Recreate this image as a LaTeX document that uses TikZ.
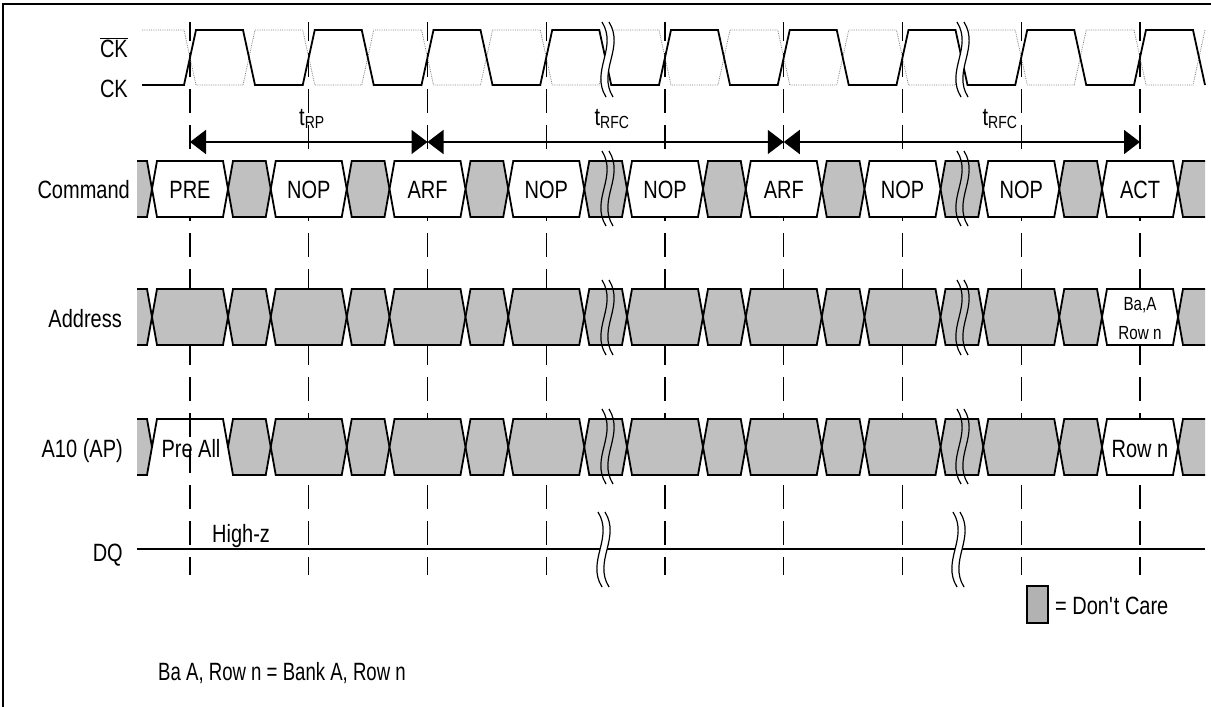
\documentclass[tikz,border=0pt]{standalone}
\usepackage{fontspec}
\usepackage{graphicx}
\setmainfont{Liberation Sans}[FakeStretch=0.8]
\usetikzlibrary{arrows.meta}
\definecolor{dcgray}{RGB}{192,192,192}
\definecolor{keygray}{RGB}{178,178,178}

% hexagon bus cell from #1 to #2 on the row centred at #3
\newcommand{\buscell}[4]{%
  \filldraw[bus,fill=#4] (#1,#3) -- (#1+5,#3-28) -- (#2-5,#3-28) -- (#2,#3)
    -- (#2-5,#3+28) -- (#1+5,#3+28) -- cycle;}
% open don't-care pieces at both ends of a row
\newcommand{\busends}[1]{%
  \fill[dcgray] (137,#1-28) -- (147,#1-28) -- (152,#1) -- (147,#1+28) -- (137,#1+28) -- cycle;
  \draw[bus] (137,#1-28) -- (147,#1-28) -- (152,#1) -- (147,#1+28) -- (137,#1+28);
  \fill[dcgray] (1205,#1-28) -- (1183,#1-28) -- (1178,#1) -- (1183,#1+28) -- (1205,#1+28) -- cycle;
  \draw[bus] (1205,#1-28) -- (1183,#1-28) -- (1178,#1) -- (1183,#1+28) -- (1205,#1+28);}
% time break: two wavy lines
\newcommand{\brk}[4][none]{%
  \path[fill=#1] (#2-2,#3) .. controls +(16,26) and +(-16,-26) .. (#2+2,#4)
    -- (#2+9,#4) .. controls +(-16,-26) and +(16,26) .. (#2+5,#3) -- cycle;
  \draw[brkline] (#2-2,#3) .. controls +(16,26) and +(-16,-26) .. (#2+2,#4);
  \draw[brkline] (#2+5,#3) .. controls +(16,26) and +(-16,-26) .. (#2+9,#4);}

\begin{document}
\begin{tikzpicture}[x=1pt,y=-1pt,
  every node/.style={font=\fontsize{25}{28}\selectfont,inner sep=0pt},
  sig/.style={anchor=base east},
  cmd/.style={anchor=base},
  small/.style={cmd,font=\fontsize{19}{22}\selectfont},
  bus/.style={line width=1.8pt},
  clk/.style={line width=1.8pt},
  clkn/.style={line width=0.8pt,densely dotted,gray},
  guide/.style={line width=1.4pt,dash pattern=on 24pt off 12pt,dash phase=5pt},
  span/.style={line width=1.8pt,<->,>={Triangle[length=16pt,width=24pt]}},
  brkline/.style={line width=1.2pt}]
\useasboundingbox (0,0) rectangle (1211,707);
\draw[line width=2pt] (3,707) -- (3,4) -- (1211,4);

% clock edges and guide lines
\foreach \i [evaluate=\i as \e using {190+118.75*\i}] in {0,...,8}{
  \coordinate (e\i) at (\e,142);
  \draw[guide] (\e,22) -- (\e,575);}

% CK and CK#
\draw[clkn] (142,30) \foreach \i [evaluate=\i as \e using {190+118.75*\i}] in {0,...,8}{
  -- (\e-6,30) -- (\e+6,85) -- (\e+53,85) -- (\e+65,30)};
\draw[clk] (142,85) \foreach \i [evaluate=\i as \e using {190+118.75*\i}] in {0,...,8}{
  -- (\e-6,85) -- (\e+6,30) -- (\e+53,30) -- (\e+65,85)};
\brk[white]{604}{22}{97}
\brk[white]{959}{22}{97}

% timing spans
\draw[span] (e0) -- (e2);
\draw[span] (e2) -- (e5);
\draw[span] (e5) -- (e8);
\node[cmd] (trp) at (312,125) {t\textsubscript{RP}};
\node[cmd] (trfc1) at (612,125) {t\textsubscript{RFC}};
\node[cmd] (trfc2) at (1000,125) {t\textsubscript{RFC}};

% Command
\busends{189}
\foreach \i [evaluate=\i as \e using {190+118.75*\i}] in {0,...,7}
  \buscell{\e+38}{\e+80.75}{189}{dcgray};
\foreach \i/\c [evaluate=\i as \e using {190+118.75*\i}] in
  {0/PRE,1/NOP,2/ARF,3/NOP,4/NOP,5/ARF,6/NOP,7/NOP,8/ACT}{
  \buscell{\e-38}{\e+38}{189}{white}
  \node[cmd] (cmd\i) at (\e,198) {\c};}

% Address
\busends{317}
\foreach \i [evaluate=\i as \e using {190+118.75*\i}] in {0,...,7}{
  \buscell{\e-38}{\e+38}{317}{dcgray}
  \buscell{\e+38}{\e+80.75}{317}{dcgray}}
\buscell{1102}{1178}{317}{white}
\node[small] (bank) at (1140,310) {Ba,A};
\node[small] (row) at (1140,339) {Row n};

% A10
\busends{447}
\draw[bus] (152,447) -- (157,419) -- (223,419) -- (228,447);
\node[cmd] (preall) at (191,457) {Pre All};
\foreach \i [evaluate=\i as \e using {190+118.75*\i}] in {0,...,7}
  \buscell{\e+38}{\e+80.75}{447}{dcgray};
\foreach \i [evaluate=\i as \e using {190+118.75*\i}] in {1,...,7}
  \buscell{\e-38}{\e+38}{447}{dcgray};
\buscell{1102}{1178}{447}{white}
\node[cmd] (rown) at (1140,457) {Row n};

\foreach \y in {151,280,409}{
  \brk{604}{\y}{\y+75}
  \brk{959}{\y}{\y+75}}

% DQ
\draw[line width=2pt] (137,549) coordinate (dq0) -- (1205,549) coordinate (dq1);
\brk[white]{600}{512}{587}
\brk[white]{955}{512}{587}

% signal names
\node[sig] (ckn) at (128,57) {$\overline{\hbox{CK}}$};
\node[sig] (ck) at (128,97) {CK};
\node[sig] (cmdl) at (130,198) {Command};
\node[sig] (addr) at (122,327) {Address};
\node[sig] (a10) at (123,457) {A10 (AP)};
\node[sig] (dq) at (123,561) {DQ};
\node[anchor=base west] (hiz) at (212,542) {High-z};
\node[anchor=base west] (note) at (158,680) {\scalebox{0.93}[1]{Ba A, Row n = Bank A, Row n}};

% key
\filldraw[fill=keygray,line width=1.5pt] (1027,586) rectangle (1048,623);
\node[anchor=base west] (key) at (1055,614) {= Don\textquotesingle t Care};
\end{tikzpicture}
\end{document}
